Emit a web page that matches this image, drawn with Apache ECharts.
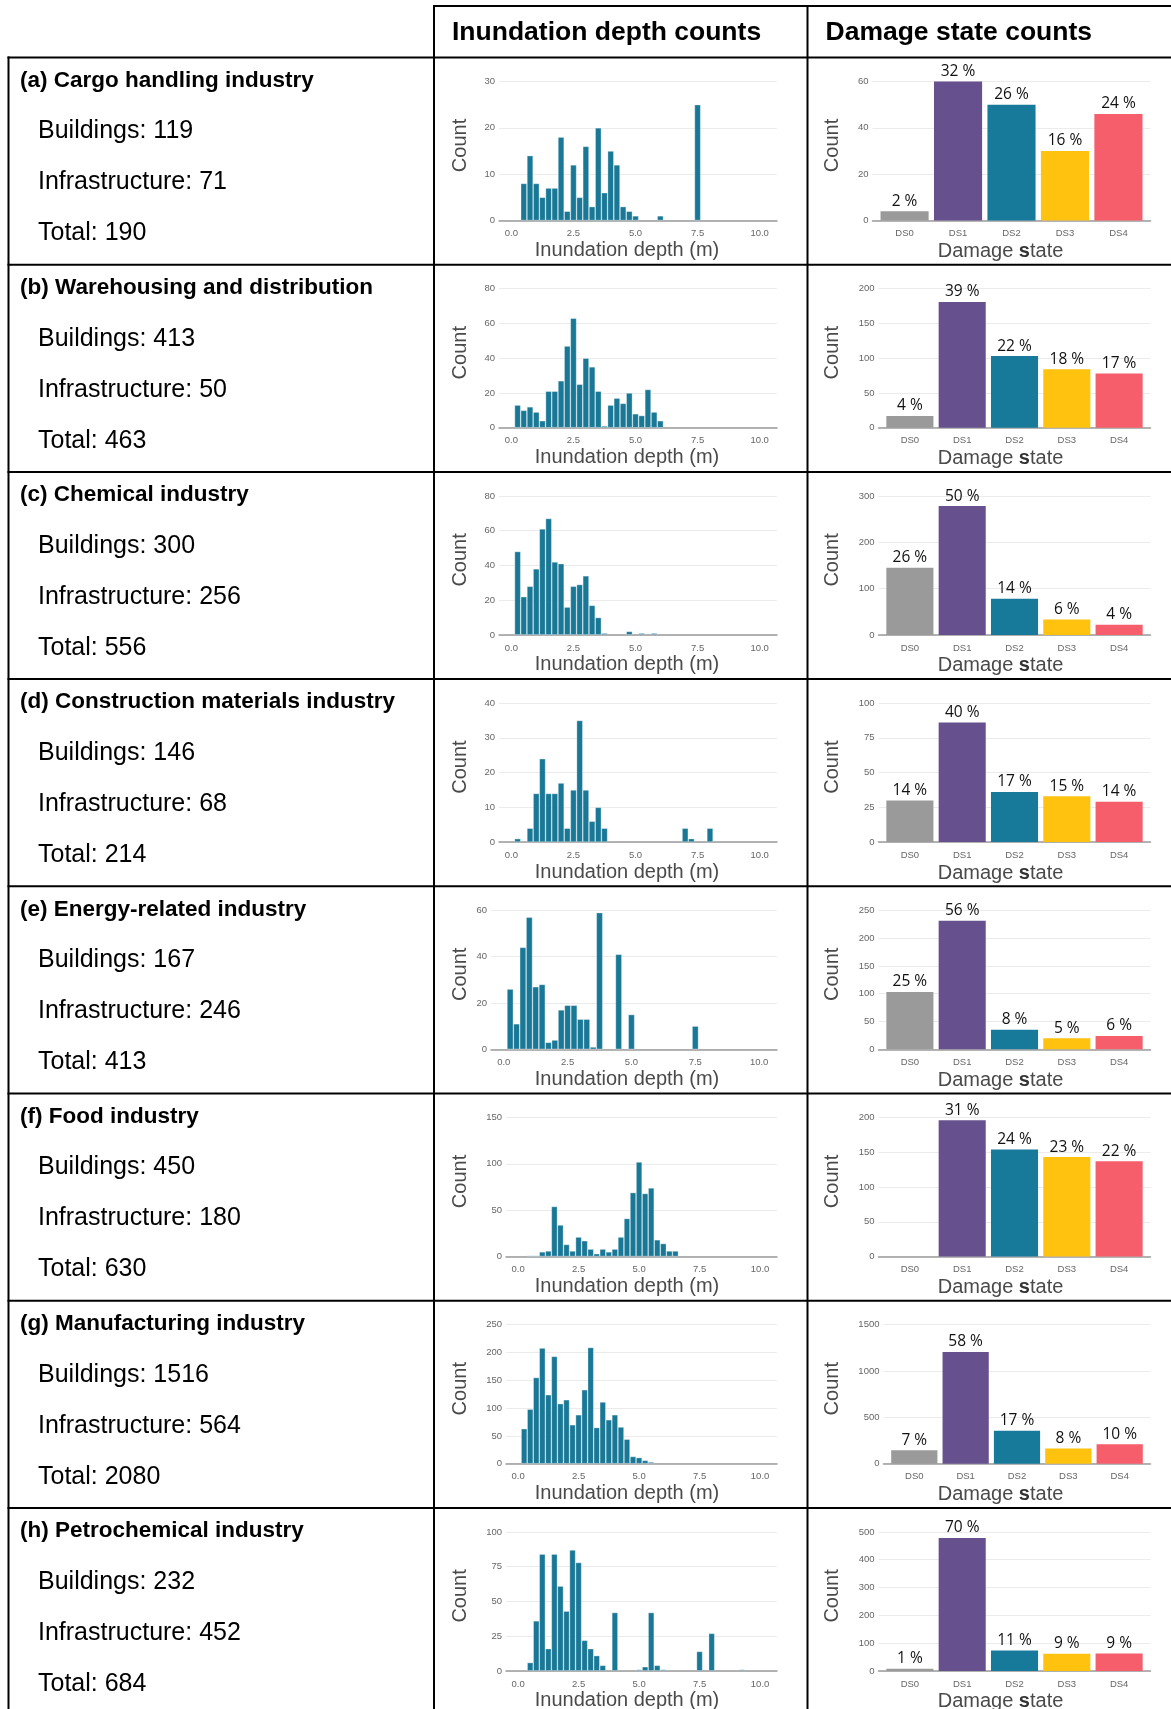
<!DOCTYPE html>
<html><head><meta charset="utf-8">
<script src="https://cdn.jsdelivr.net/npm/echarts@6/dist/echarts.min.js"></script>
<style>html,body{margin:0;padding:0;background:#fff}#c{width:1171px;height:1709px}</style>
</head><body><div id="c"></div>
<script>
// ---------------- DATA ----------------
const industries = ['(a) Cargo handling industry','(b) Warehousing and distribution','(c) Chemical industry','(d) Construction materials industry','(e) Energy-related industry','(f) Food industry','(g) Manufacturing industry','(h) Petrochemical industry'];
const buildings = [119, 413, 300, 146, 167, 450, 1516, 232];
const infrastructure = [71, 50, 256, 68, 246, 180, 564, 452];
const totals = [190, 463, 556, 214, 413, 630, 2080, 684];
const damageStates = ['DS0','DS1','DS2','DS3','DS4'];
const depthTicks = [0, 2.5, 5, 7.5, 10];

// histogram bins: [bin centre (m), count], bin width 0.25 m
const histCargo = [[0.5,8],[0.75,14],[1.0,8],[1.25,5],[1.5,7],[1.75,7],[2.0,18],[2.25,2],[2.5,12],[2.75,5],[3.0,16],[3.25,3],[3.5,20],[3.75,6],[4.0,15],[4.25,12],[4.5,3],[4.75,2],[5.0,1],[6.0,1],[7.5,25]];
const histWarehouse = [[0.25,13],[0.5,10],[0.75,12],[1.0,9],[1.25,4],[1.5,21],[1.75,21],[2.0,27],[2.25,47],[2.5,63],[2.75,25],[3.0,40],[3.25,35],[3.5,21],[3.75,1],[4.0,13],[4.25,17],[4.5,14],[4.75,20],[5.0,8],[5.25,7],[5.5,22],[5.75,9],[6.0,4]];
const histChemical = [[0.25,48],[0.5,22],[0.75,28],[1.0,38],[1.25,61],[1.5,67],[1.75,42],[2.0,41],[2.25,16],[2.5,28],[2.75,29],[3.0,34],[3.25,17],[3.5,10],[3.75,1],[4.75,2],[5.25,1],[5.75,1]];
const histConstruction = [[0.25,1],[0.75,4],[1.0,14],[1.25,24],[1.5,14],[1.75,14],[2.0,17],[2.25,4],[2.5,15],[2.75,35],[3.0,15],[3.25,6],[3.5,10],[3.75,4],[7.0,4],[7.25,1],[8.0,4]];
const histEnergy = [[0.25,26],[0.5,11],[0.75,44],[1.0,57],[1.25,27],[1.5,28],[1.75,3],[2.0,4],[2.25,17],[2.5,19],[2.75,19],[3.0,13],[3.25,13],[3.5,1],[3.75,59],[4.5,41],[5.0,15],[7.5,10]];
const histFood = [[0.5,1],[0.75,1],[1.0,5],[1.25,6],[1.5,54],[1.75,34],[2.0,13],[2.25,6],[2.5,21],[2.75,17],[3.0,8],[3.25,3],[3.5,8],[3.75,5],[4.0,8],[4.25,21],[4.5,41],[4.75,69],[5.0,102],[5.25,68],[5.5,74],[5.75,18],[6.0,14],[6.25,6],[6.5,6]];
const histManufacturing = [[0.25,63],[0.5,98],[0.75,155],[1.0,208],[1.25,124],[1.5,193],[1.75,108],[2.0,115],[2.25,70],[2.5,88],[2.75,133],[3.0,209],[3.25,65],[3.5,111],[3.75,79],[4.0,88],[4.25,66],[4.5,44],[4.75,13],[5.0,11],[5.25,6],[5.5,3]];
const histPetrochemical = [[0.5,6],[0.75,36],[1.0,84],[1.25,16],[1.5,84],[1.75,61],[2.0,43],[2.25,87],[2.5,78],[2.75,22],[3.0,16],[3.25,11],[3.5,4],[4.0,42],[5.0,1],[5.25,3],[5.5,42],[5.75,4],[6.0,1],[7.5,14],[8.0,27],[9.25,1]];

// damage state counts DS0..DS4 and their percentage labels
const dmgCargo = [4, 60, 50, 30, 46];
const dmgWarehouse = [17, 181, 103, 84, 78];
const dmgChemical = [145, 278, 78, 33, 22];
const dmgConstruction = [30, 86, 36, 33, 29];
const dmgEnergy = [103, 231, 35, 20, 24];
const dmgFood = [0, 196, 154, 143, 137];
const dmgManufacturing = [145, 1205, 355, 165, 210];
const dmgPetrochemical = [8, 478, 73, 62, 63];
const pctCargo = ['2 %','32 %','26 %','16 %','24 %'];
const pctWarehouse = ['4 %','39 %','22 %','18 %','17 %'];
const pctChemical = ['26 %','50 %','14 %','6 %','4 %'];
const pctConstruction = ['14 %','40 %','17 %','15 %','14 %'];
const pctEnergy = ['25 %','56 %','8 %','5 %','6 %'];
const pctFood = ['','31 %','24 %','23 %','22 %'];
const pctManufacturing = ['7 %','58 %','17 %','8 %','10 %'];
const pctPetrochemical = ['1 %','70 %','11 %','9 %','9 %'];

// y-axis tick ranges
const histYMax = [30, 80, 80, 40, 60, 150, 250, 100];
const histYStep = [10, 20, 20, 10, 20, 50, 50, 25];
const dmgYMax = [60, 200, 300, 100, 250, 200, 1500, 500];
const dmgYStep = [20, 50, 100, 25, 50, 50, 500, 100];

const hist = [histCargo, histWarehouse, histChemical, histConstruction, histEnergy, histFood, histManufacturing, histPetrochemical];
const dmg = [dmgCargo, dmgWarehouse, dmgChemical, dmgConstruction, dmgEnergy, dmgFood, dmgManufacturing, dmgPetrochemical];
const pct = [pctCargo, pctWarehouse, pctChemical, pctConstruction, pctEnergy, pctFood, pctManufacturing, pctPetrochemical];

// ---------------- LAYOUT ----------------
const W = 1171, H = 1709;
const LEFT = 8.5, COL1 = 434, COL2 = 807.5, HEAD_TOP = 6, ROW0 = 57.5, ROWH = 207.2;
const histLeft = [65, 65, 65, 65, 57, 72, 72, 72];
const dmgLeft = [65, 71, 71, 71, 71, 71, 76, 71];
const PLOT_RIGHT = 343, PLOT_TOP = 24, PLOT_BOTTOM = 163;
const FONT = '"Liberation Sans", Arial, sans-serif';
const dsColors = ['#9a9a9a', '#66508e', '#187a9b', '#ffc20e', '#f65e6b'];
const histColor = '#1a7897';
const tickStyle = { fontSize: 9.5, color: '#666666', fontFamily: FONT };
const titleColor = '#4a4a4a';

const grid = [], xAxis = [], yAxis = [], series = [], graphic = [];

function line(x1, y1, x2, y2) {
  graphic.push({ type: 'line', silent: true, z: 100, shape: { x1, y1, x2, y2 }, style: { stroke: '#000', lineWidth: 2 } });
}
function text(x, y, t, font, opts) {
  graphic.push(Object.assign({ type: 'text', silent: true, x, y,
    style: { text: t, font, fill: '#000', textAlign: 'left', align: 'left', textVerticalAlign: 'middle', verticalAlign: 'middle' } }, opts || {}));
}
function ctext(x, y, t, rot, rich) {
  const st = { text: t, font: '20px ' + FONT, fill: titleColor, textAlign: 'center', align: 'center', textVerticalAlign: 'middle', verticalAlign: 'middle' };
  if (rich) st.rich = rich;
  graphic.push({ type: 'text', silent: true, x, y, rotation: rot, style: st });
}

for (let i = 0; i < 8; i++) {
  const T = ROW0 + ROWH * i;
  // histogram panel
  const hl = COL1 + histLeft[i];
  grid.push({ left: hl, top: T + PLOT_TOP, width: COL1 + PLOT_RIGHT - hl, height: PLOT_BOTTOM - PLOT_TOP });
  xAxis.push({ gridIndex: 2 * i, type: 'value', min: -0.5, max: 10.7,
    axisLine: { show: true, onZero: false, lineStyle: { color: '#9c9c9c', width: 1.5 } },
    axisTick: { show: false }, splitLine: { show: false },
    axisLabel: Object.assign({ customValues: depthTicks, formatter: v => Number(v).toFixed(1), margin: 8 }, tickStyle) });
  yAxis.push({ gridIndex: 2 * i, type: 'value', min: 0, max: histYMax[i], interval: histYStep[i],
    axisLine: { show: false }, axisTick: { show: false },
    splitLine: { lineStyle: { color: '#ebebeb', width: 1 } },
    axisLabel: Object.assign({ margin: 4, formatter: v => String(v) }, tickStyle) });
  series.push({ type: 'bar', xAxisIndex: 2 * i, yAxisIndex: 2 * i, data: hist[i], barWidth: '100%',
    itemStyle: { color: histColor, borderColor: 'rgba(255,255,255,0.55)', borderWidth: 0.6 }, silent: true });

  // damage state panel
  const dl = COL2 + dmgLeft[i];
  grid.push({ left: dl, top: T + PLOT_TOP, width: COL2 + PLOT_RIGHT - dl, height: PLOT_BOTTOM - PLOT_TOP });
  xAxis.push({ gridIndex: 2 * i + 1, type: 'value', min: 0.4, max: 5.6,
    axisLine: { show: true, onZero: false, lineStyle: { color: '#9c9c9c', width: 1.5 } },
    axisTick: { show: false }, splitLine: { show: false },
    axisLabel: Object.assign({ customValues: [1, 2, 3, 4, 5], formatter: v => damageStates[Math.round(v) - 1], margin: 8 }, tickStyle) });
  yAxis.push({ gridIndex: 2 * i + 1, type: 'value', min: 0, max: dmgYMax[i], interval: dmgYStep[i],
    axisLine: { show: false }, axisTick: { show: false },
    splitLine: { lineStyle: { color: '#ebebeb', width: 1 } },
    axisLabel: Object.assign({ margin: 4, formatter: v => String(v) }, tickStyle) });
  const pl = pct[i];
  series.push({ type: 'bar', xAxisIndex: 2 * i + 1, yAxisIndex: 2 * i + 1, barWidth: '90%', silent: true,
    data: dmg[i].map((v, k) => ({ value: [k + 1, v], itemStyle: { color: dsColors[k] } })),
    label: { show: true, position: 'top', distance: 2, formatter: p => pl[p.dataIndex],
      fontSize: 15.5, color: '#111', fontFamily: '"Open Sans", "Noto Sans", sans-serif' } });

  // axis titles
  ctext(COL1 + 26, T + 88, 'Count', Math.PI / 2);
  ctext(COL2 + 25, T + 88, 'Count', Math.PI / 2);
  ctext(COL1 + 193, T + 193, 'Inundation depth (m)', 0);
  ctext(COL2 + 193, T + 194, 'Damage {b|s}tate', 0, { b: { fontWeight: 'bold', fontSize: 20, fontFamily: FONT, fill: '#333' } });

  // left column text
  text(20, T + 23, industries[i], 'bold 22.5px ' + FONT);
  text(38, T + 74, 'Buildings: ' + buildings[i], '25px ' + FONT);
  text(38, T + 125, 'Infrastructure: ' + infrastructure[i], '25px ' + FONT);
  text(38, T + 176, 'Total: ' + totals[i], '25px ' + FONT);

  line(LEFT - 1, T, W, T);
}

// header
text(COL1 + 18, 33, 'Inundation depth counts', 'bold 26.5px ' + FONT);
text(COL2 + 18, 33, 'Damage state counts', 'bold 26.5px ' + FONT);
line(COL1 - 1, HEAD_TOP, W, HEAD_TOP);
line(LEFT, ROW0 - 1, LEFT, H);
line(COL1, HEAD_TOP - 1, COL1, H);
line(COL2, HEAD_TOP - 1, COL2, H);

const chart = echarts.init(document.getElementById('c'), null, { renderer: 'canvas' });
chart.setOption({ animation: false, backgroundColor: '#fff', grid, xAxis, yAxis, series, graphic });
</script>
</body></html>
